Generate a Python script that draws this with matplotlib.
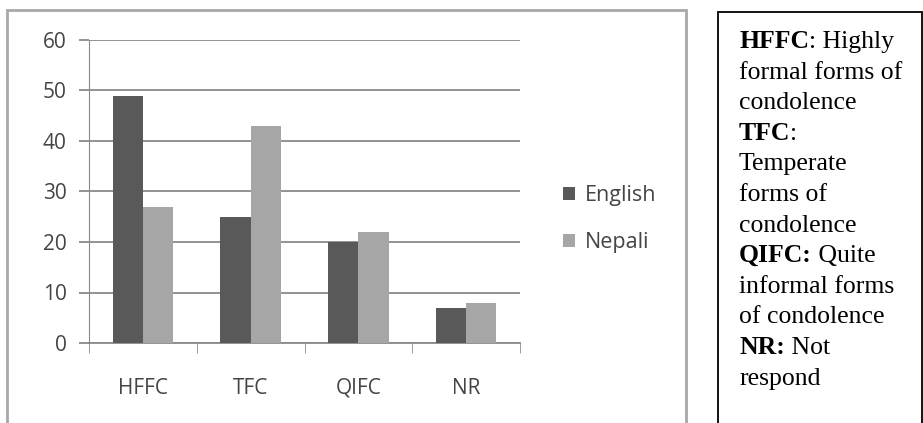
import matplotlib.pyplot as plt
from matplotlib.patches import Rectangle
import numpy as np

categories = ['HFFC', 'TFC', 'QIFC', 'NR']
english = [49, 25, 20, 7]
nepali = [27, 43, 22, 8]
series_names = ['English', 'Nepali']

notes = [
    ('HFFC', ': Highly'),
    ('', 'formal forms of'),
    ('', 'condolence'),
    ('TFC', ':'),
    ('', 'Temperate'),
    ('', 'forms of'),
    ('', 'condolence'),
    ('QIFC:', ' Quite'),
    ('', 'informal forms'),
    ('', 'of condolence'),
    ('NR:', ' Not'),
    ('', 'respond'),
]

W, H = 923, 423
fig = plt.figure(figsize=(W / 100, H / 100), dpi=100)

# chart frame (excel style)
fig.patches.append(Rectangle((7 / W, -0.1), 679 / W, 1.1 - 10 / H, transform=fig.transFigure,
                             facecolor='white', edgecolor='#a8a8a8', lw=2, zorder=-2))
# notes box
fig.patches.append(Rectangle((718 / W, -0.1), 204 / W, 1.1 - 12 / H, transform=fig.transFigure,
                             facecolor='white', edgecolor='black', lw=1.3, zorder=-2))

ax = fig.add_axes([89 / W, 1 - 343 / H, 431 / W, 303 / H])
ax.set_zorder(1)
x = np.arange(len(categories))
w = 0.28
ax.bar(x - w / 2, english, w, color='#595959', label=series_names[0], zorder=3)
ax.bar(x + w / 2, nepali, w, color='#a6a6a6', label=series_names[1], zorder=3)

ax.set_xlim(-0.5, len(categories) - 0.5)
ax.set_ylim(0, 60)
ax.set_yticks(range(0, 61, 10))
ax.yaxis.grid(True, color='#8a8a8a', lw=1.3, zorder=0)
ax.set_axisbelow(True)
for s in ['top', 'right']:
    ax.spines[s].set_visible(False)
ax.spines['left'].set_color('#8a8a8a')
ax.spines['bottom'].set_color('#8a8a8a')
ax.spines['bottom'].set_linewidth(1.3)

ax.set_xticks(x)
ax.set_xticklabels(categories)
ax.set_xticks(np.arange(-0.5, len(categories)), minor=True)
ax.tick_params(axis='x', which='major', length=0, pad=25, labelsize=15, labelcolor='#454545')
ax.tick_params(axis='x', which='minor', length=7, color='#8a8a8a', direction='out')
ax.tick_params(axis='y', length=7, width=1.3, color='#8a8a8a', labelsize=15, labelcolor='#454545', pad=9)
for lab in ax.get_xticklabels() + ax.get_yticklabels():
    lab.set_family('Open Sans')

fig.legend(loc='center left', bbox_to_anchor=(544 / W, 1 - 219 / H), frameon=False,
           labelspacing=1.2, handlelength=0.55, handleheight=0.55, handletextpad=0.45,
           prop={'family': 'Open Sans', 'size': 15.5}, labelcolor='#454545')

y0 = 1 - 48 / H
step = 30.6 / H
fs = 18.5
fig.canvas.draw()
r = fig.canvas.get_renderer()
for i, (b, n) in enumerate(notes):
    y = y0 - i * step
    if b:
        t = fig.text(739 / W, y, b, family='Liberation Serif', weight='bold', size=fs, va='baseline')
        if n:
            bw = t.get_window_extent(renderer=r).width
            fig.text((739 + bw) / W, y, n, family='Liberation Serif', size=fs, va='baseline')
    else:
        fig.text(739 / W, y, n, family='Liberation Serif', size=fs, va='baseline')

fig.savefig('out.png', dpi=100)
